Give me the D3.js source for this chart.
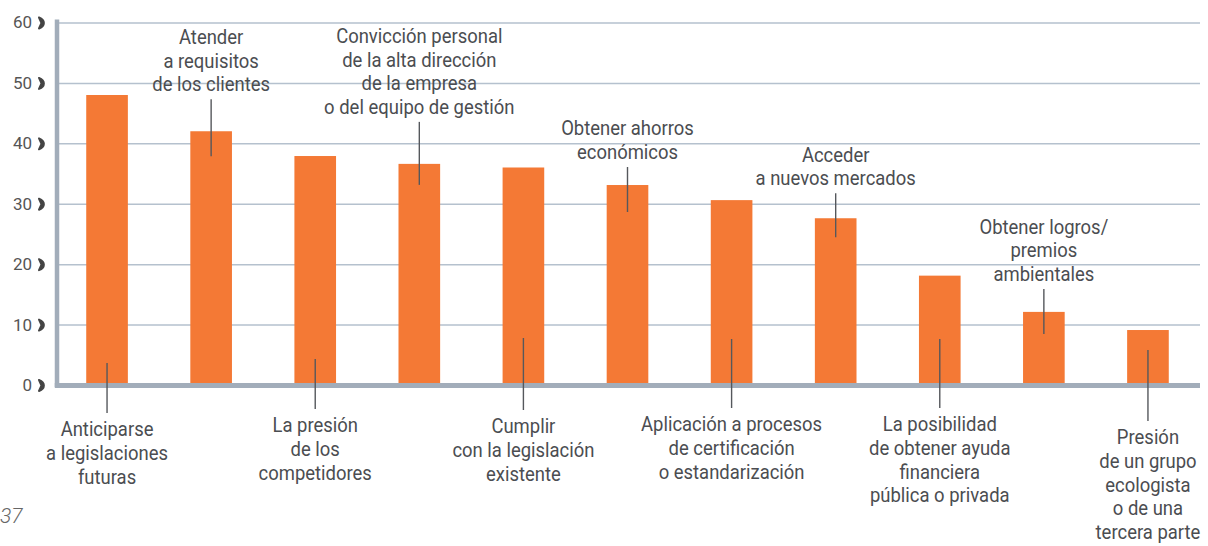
<!DOCTYPE html>
<html>
<head>
<meta charset="utf-8">
<script src="https://cdn.jsdelivr.net/npm/d3@7/dist/d3.min.js"></script>
<style>
  body { margin: 0; background: #fff; }
  .lbl { font-family: Roboto, "Liberation Sans Narrow", sans-serif; font-size: 20.5px; fill: #4b4d51; }
  .tick text { font-family: Roboto, "Open Sans", sans-serif; font-size: 17px; fill: #555; }
</style>
</head>
<body>
<div id="chartArea"></div>
<script>
// data
var categories = [
    ["Anticiparse", "a legislaciones", "futuras"],
    ["Atender", "a requisitos", "de los clientes"],
    ["La presión", "de los", "competidores"],
    ["Convicción personal", "de la alta dirección", "de la empresa", "o del equipo de gestión"],
    ["Cumplir", "con la legislación", "existente"],
    ["Obtener ahorros", "económicos"],
    ["Aplicación a procesos", "de certificación", "o estandarización"],
    ["Acceder", "a nuevos mercados"],
    ["La posibilidad", "de obtener ayuda", "financiera", "pública o privada"],
    ["Obtener logros/", "premios", "ambientales"],
    ["Presión", "de un grupo", "ecologista", "o de una", "tercera parte"]
];
var values = [48.0, 42.0, 37.9, 36.6, 36.0, 33.1, 30.6, 27.6, 18.1, 12.1, 9.1];
var labelSide = ["below", "above", "below", "above", "below", "above", "below", "above", "below", "above", "below"];
var yTicks = [0, 10, 20, 30, 40, 50, 60];
var pageNote = "37";

(function() {

    // 1. dimensions
    var width = 1208,
        height = 546;
    var left = 57, right = 1200, top = 22.5, bottom = 385;

    // leader line lengths (px) - above: [into bar, length]; below: [into bar, below axis]
    var leader = [[22, 28], [25, 57], [26, 24], [21, 63], [47, 25], [27, 45],
                  [46, 23], [19, 44], [46, 23], [22, 45], [35, 36]];
    var lineH = 23.7;
    var squeeze = 0.9;   // fake condensed face

    // 2. ranges
    var keys = categories.map(function(d) { return d.join(" "); });
    var x = d3.scaleBand()
        .domain(keys)
        .range([55, right])
        .paddingInner(0.6)
        .paddingOuter(0.3);
    var y = d3.scaleLinear()
        .domain([0, 60])
        .range([bottom, top]);

    var svg = d3.select("#chartArea").append("svg")
        .attr("width", width)
        .attr("height", height);

    // 3. grid + y labels
    var yAxis = svg.append("g")
        .attr("transform", "translate(" + left + ",0)")
        .call(d3.axisLeft(y).tickValues(yTicks).tickSize(-(right - left)).tickPadding(25));
    yAxis.select(".domain").remove();
    yAxis.selectAll(".tick line")
        .attr("stroke", "#b5c1ce")
        .attr("stroke-width", 1.5);
    yAxis.selectAll(".tick text")
        .attr("text-anchor", "end")
        .attr("dy", "0.32em");
    yAxis.selectAll(".tick").append("path")
        .attr("d", "M-18,-5.5 C-11.5,-3 -11.5,3 -18,5.5 L-15.5,0 Z")
        .attr("fill", "#444")
        .attr("stroke", "#444")
        .attr("stroke-width", 2)
        .attr("stroke-linejoin", "round");

    // 4. bars
    svg.selectAll(".bar")
        .data(values)
        .enter().append("rect")
        .attr("class", "bar")
        .attr("x", function(d, i) { return x(keys[i]); })
        .attr("width", x.bandwidth())
        .attr("y", function(d) { return y(d); })
        .attr("height", function(d) { return y(0) - y(d); })
        .attr("fill", "#f47935");

    // axis lines
    svg.append("line")
        .attr("x1", left).attr("x2", left)
        .attr("y1", top - 3).attr("y2", bottom + 2)
        .attr("stroke", "#a2adba").attr("stroke-width", 4.5);
    svg.append("line")
        .attr("x1", left - 2.2).attr("x2", right)
        .attr("y1", bottom + 0.5).attr("y2", bottom + 0.5)
        .attr("stroke", "#a2adba").attr("stroke-width", 5);

    // 5. labels with leader lines
    values.forEach(function(v, i) {
        var cx = x(keys[i]) + x.bandwidth() / 2;
        var lines = categories[i];
        var y1, y2, firstY;
        if (labelSide[i] == "above") {
            y2 = y(v) + leader[i][0];
            y1 = y2 - leader[i][1];
            firstY = y1 - 15 - (lines.length - 1) * lineH;
        } else {
            y1 = y(0) - leader[i][0];
            y2 = y(0) + leader[i][1];
            firstY = y2 + 16;
        }
        svg.append("line")
            .attr("x1", cx).attr("x2", cx)
            .attr("y1", y1).attr("y2", y2)
            .attr("stroke", "#55585c")
            .attr("stroke-width", 1.4);
        var t = svg.append("text")
            .attr("class", "lbl")
            .attr("text-anchor", "middle")
            .attr("transform", "translate(" + cx + ",0) scale(" + squeeze + ",1)");
        lines.forEach(function(s, k) {
            t.append("tspan")
                .attr("x", 0)
                .attr("y", firstY + k * lineH)
                .attr("dy", "0.35em")
                .text(s);
        });
    });

    // page number
    svg.append("text")
        .attr("x", 0)
        .attr("y", 523)
        .attr("font-family", "Roboto, sans-serif")
        .attr("font-style", "italic")
        .attr("font-weight", 300)
        .attr("font-size", 21)
        .attr("fill", "#666")
        .text(pageNote);
})();
</script>
</body>
</html>
